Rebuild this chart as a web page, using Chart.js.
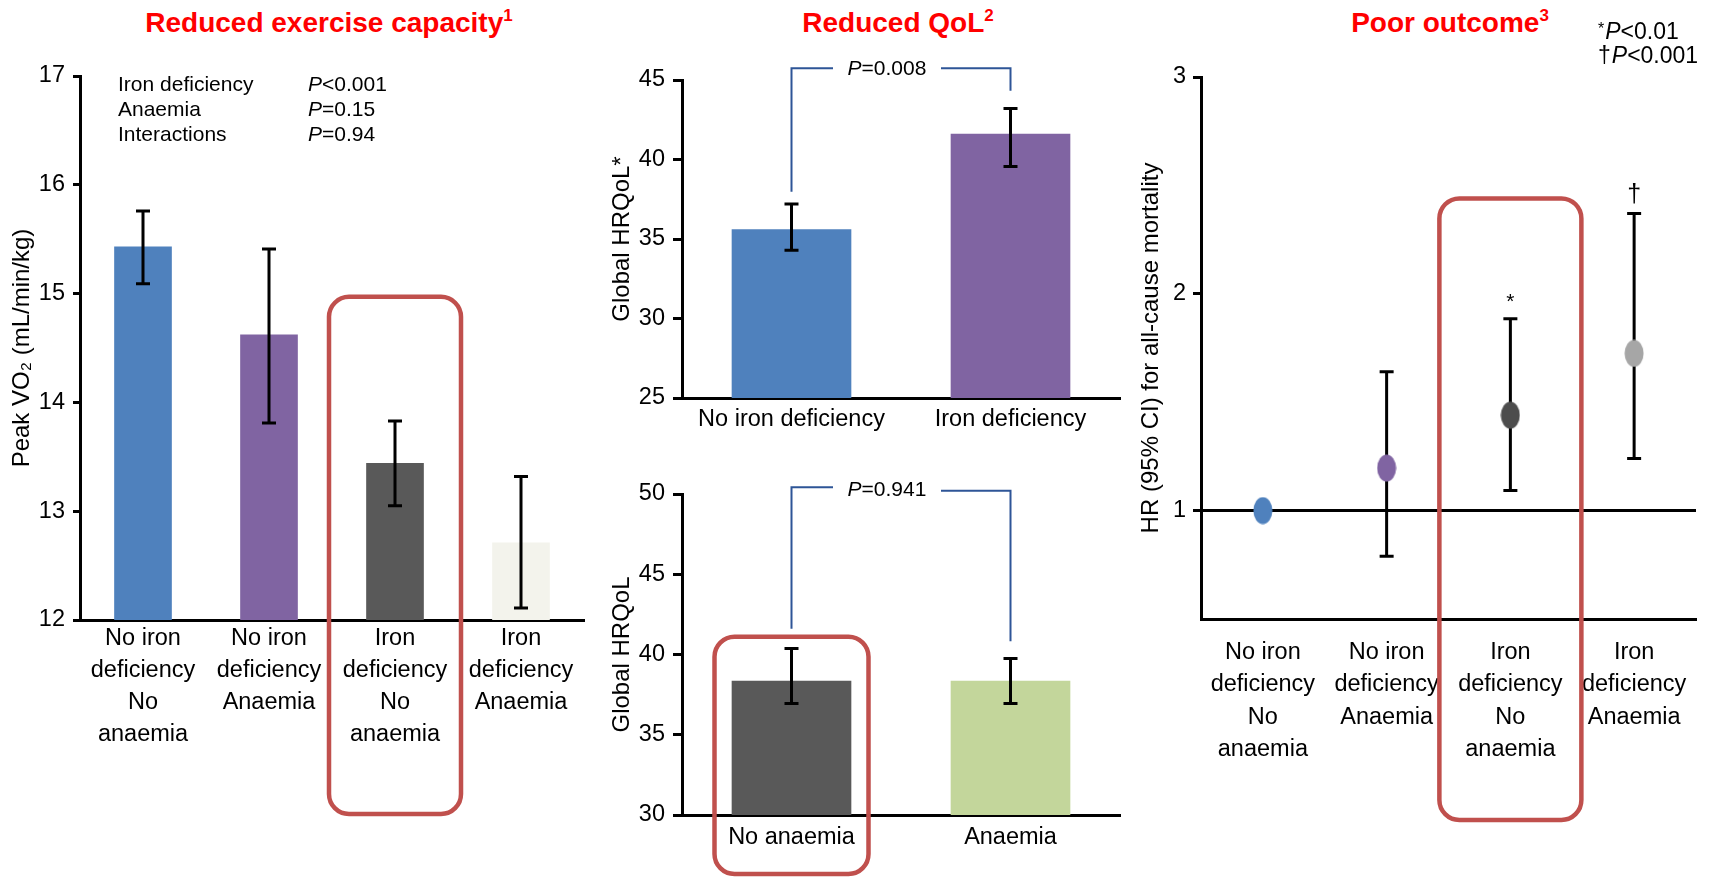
<!DOCTYPE html>
<html>
<head>
<meta charset="utf-8">
<script src="https://cdn.jsdelivr.net/npm/chart.js@4.4.1/dist/chart.umd.min.js"></script>
<style>
  body { margin: 0; background: #fff; width: 1711px; height: 877px; overflow: hidden; position: relative;
         font-family: "Liberation Sans", Arial, Helvetica, sans-serif; }
  canvas { position: absolute; }
  .title { position: absolute; color: #ff0000; font-weight: bold; font-size: 28px; white-space: nowrap;
           transform: translate(-50%, -50%); }
  .title span { font-size: 17px; position: relative; top: -11px; }
</style>
</head>
<body>
<div class="title" style="left:329px;top:23px">Reduced exercise capacity<span>1</span></div>
<div class="title" style="left:898px;top:23px">Reduced QoL<span>2</span></div>
<div class="title" style="left:1450px;top:23px">Poor outcome<span>3</span></div>

<canvas id="c1" width="610" height="877" style="left:0;top:0"></canvas>
<canvas id="c2" width="540" height="440" style="left:590px;top:0"></canvas>
<canvas id="c3" width="540" height="437" style="left:590px;top:440px"></canvas>
<canvas id="c4" width="591" height="877" style="left:1120px;top:0"></canvas>

<script>
"use strict";

const FONT = '"Liberation Sans", Arial, Helvetica, sans-serif';

// data
const groups = [["No iron", "deficiency", "No", "anaemia"], ["No iron", "deficiency", "Anaemia"],
                ["Iron", "deficiency", "No", "anaemia"], ["Iron", "deficiency", "Anaemia"]];

const vo2Mean = [15.43, 14.62, 13.44, 12.71];
const vo2Low = [15.09, 13.81, 13.05, 12.11];
const vo2High = [15.76, 15.41, 13.83, 13.32];
const vo2Effects = ["Iron deficiency", "Anaemia", "Interactions"];
const vo2EffectP = ["<0.001", "=0.15", "=0.94"];

const ironLabels = ["No iron deficiency", "Iron deficiency"];
const ironQol = [35.6, 41.6];
const ironQolLow = [34.3, 39.56];
const ironQolHigh = [37.2, 43.2];

const anaemiaLabels = ["No anaemia", "Anaemia"];
const anaemiaQol = [38.34, 38.34];
const anaemiaQolLow = [36.95, 36.95];
const anaemiaQolHigh = [40.37, 39.75];

const hrValues = [1.0, 1.196, 1.44, 1.725];
const hrLow = [null, 0.79, 1.093, 1.24];
const hrHigh = [null, 1.64, 1.885, 2.37];
const hrMarks = ["", "", "*", "\u2020"];
const hrTicks = [1, 2, 3];
const sigKeys = ["*", "\u2020"];
const sigP = ["<0.01", "<0.001"];

const blue = "#4f81bd", purple = "#8064a2", darkGrey = "#595959";

Chart.defaults.font.family = FONT;
Chart.defaults.font.size = 23.5;
Chart.defaults.color = "#000";
Chart.defaults.animation = false;
Chart.defaults.plugins.legend.display = false;
Chart.defaults.plugins.tooltip.enabled = false;

function pText(ctx, x, y, rest, align, size) {
  size = size || 21;
  ctx.font = "italic " + size + "px " + FONT;
  const wP = ctx.measureText("P").width;
  ctx.font = size + "px " + FONT;
  const wR = ctx.measureText(rest).width;
  const x0 = align === "center" ? x - (wP + wR) / 2 : x;
  ctx.textAlign = "left";
  ctx.textBaseline = "middle";
  ctx.fillStyle = "#000";
  ctx.font = "italic " + size + "px " + FONT;
  ctx.fillText("P", x0, y);
  ctx.font = size + "px " + FONT;
  ctx.fillText(rest, x0 + wP, y);
}

function drawErrors(chart, o) {
  const ctx = chart.ctx, xs = chart.scales.x, ys = chart.scales.y;
  ctx.save();
  ctx.strokeStyle = "#000";
  ctx.lineWidth = 3;
  o.low.forEach((lo, i) => {
    if (lo === null) return;
    const x = xs.getPixelForValue(i);
    const yl = ys.getPixelForValue(lo), yh = ys.getPixelForValue(o.high[i]);
    ctx.beginPath();
    ctx.moveTo(x, yl); ctx.lineTo(x, yh);
    ctx.moveTo(x - 7, yl); ctx.lineTo(x + 7, yl);
    ctx.moveTo(x - 7, yh); ctx.lineTo(x + 7, yh);
    ctx.stroke();
    if (o.marks && o.marks[i]) {
      ctx.fillStyle = "#000";
      ctx.textAlign = "center";
      ctx.textBaseline = "bottom";
      ctx.font = (o.marks[i] === "*" ? 21 : 25) + "px " + FONT;
      ctx.fillText(o.marks[i], x, yh - 6);
    }
  });
  ctx.restore();
}

const extras = {
  id: "extras",
  beforeDatasetsDraw(chart, args, o) {
    const ctx = chart.ctx, a = chart.chartArea;
    if (o.refLine !== undefined) {
      const y = chart.scales.y.getPixelForValue(o.refLine);
      ctx.save();
      ctx.strokeStyle = "#000";
      ctx.lineWidth = 3;
      ctx.beginPath(); ctx.moveTo(a.left, y); ctx.lineTo(a.right, y); ctx.stroke();
      ctx.restore();
    }
    if (o.under && o.low) drawErrors(chart, o);
  },
  afterDatasetsDraw(chart, args, o) {
    if (!o.under && o.low) drawErrors(chart, o);
  },
  afterDraw(chart, args, o) {
    const ctx = chart.ctx, a = chart.chartArea, xs = chart.scales.x, ys = chart.scales.y;
    if (o.bracket) {
      const b = o.bracket;
      const xl = xs.getPixelForValue(0), xr = xs.getPixelForValue(1);
      const yl = ys.getPixelForValue(b.topL), yr = ys.getPixelForValue(b.topR);
      const mid = (xl + xr) / 2 + b.shift;
      ctx.save();
      ctx.strokeStyle = "#2e5597";
      ctx.lineWidth = 2;
      ctx.beginPath();
      ctx.moveTo(xl, ys.getPixelForValue(b.endL)); ctx.lineTo(xl, yl); ctx.lineTo(mid - 54, yl);
      ctx.moveTo(mid + 54, yr); ctx.lineTo(xr, yr); ctx.lineTo(xr, ys.getPixelForValue(b.endR));
      ctx.stroke();
      pText(ctx, mid, (yl + yr) / 2 + 1, b.text, "center");
      ctx.restore();
    }
    if (o.notes) {
      ctx.save();
      o.notes.forEach((t, i) => {
        const y = a.top + 9 + 25 * i;
        ctx.fillStyle = "#000";
        ctx.font = "21px " + FONT;
        ctx.textAlign = "left";
        ctx.textBaseline = "middle";
        ctx.fillText(t, a.left + 38, y);
        pText(ctx, a.left + 228, y, o.noteP[i], "left");
      });
      ctx.restore();
    }
    if (o.key) {
      ctx.save();
      o.key.forEach((k, i) => {
        const y = 33 + 24 * i;
        const x = a.right - 98;
        ctx.fillStyle = "#000";
        ctx.textAlign = "left";
        ctx.textBaseline = "middle";
        ctx.font = (k === "*" ? 16 : 23) + "px " + FONT;
        ctx.fillText(k, x, k === "*" ? y - 3 : y);
        pText(ctx, x + ctx.measureText(k).width + 1, y, o.keyP[i], "left", 23);
      });
      ctx.restore();
    }
    if (o.box) {
      const b = o.box;
      const x = xs.getPixelForValue(b.index);
      const top = ys.getPixelForValue(b.top);
      const bottom = b.below === "edge" ? chart.height - 3 : a.bottom + b.below;
      ctx.save();
      ctx.strokeStyle = "#c0504d";
      ctx.lineWidth = 4.5;
      ctx.beginPath();
      ctx.roundRect(x - b.half, top, 2 * b.half, bottom - top, 20);
      ctx.stroke();
      ctx.restore();
    }
  }
};

function yAxis(min, max, step, title, width, titlePad, tickPad, tickLen) {
  return {
    min: min, max: max,
    ticks: { stepSize: step, padding: tickPad, font: { size: 23.5 } },
    grid: { drawOnChartArea: false, drawTicks: true, tickLength: tickLen, tickWidth: 3, tickColor: "#000" },
    border: { display: true, color: "#000", width: 3 },
    title: { display: true, text: title, font: { size: 24 }, padding: { top: titlePad, bottom: 0 } },
    afterFit(scale) { scale.width = width; }
  };
}

function xAxis(height, pad, lineHeight) {
  return {
    offset: true,
    ticks: { padding: pad, maxRotation: 0, autoSkip: false, font: { size: 23.5, lineHeight: lineHeight } },
    grid: { drawOnChartArea: false, drawTicks: false },
    border: { display: true, color: "#000", width: 3 },
    afterFit(scale) { scale.height = height; }
  };
}

// Panel 1: peak VO2
new Chart(document.getElementById("c1"), {
  type: "bar",
  data: {
    labels: groups,
    datasets: [{ data: vo2Mean, backgroundColor: [blue, purple, darkGrey, "#f3f3ec"], barThickness: 57 }]
  },
  options: {
    responsive: false,
    layout: { padding: { left: 0, right: 26, top: 76, bottom: 0 } },
    scales: {
      x: xAxis(257, 3, 1.36),
      y: yAxis(12, 17, 1, "Peak VO\u2082 (mL/min/kg)", 80, 8, 8, 7)
    },
    plugins: {
      extras: { low: vo2Low, high: vo2High, notes: vo2Effects, noteP: vo2EffectP,
                box: { index: 2, half: 66, top: 14.97, below: 194 } }
    }
  },
  plugins: [extras]
});

// Panel 2: QoL by iron status
new Chart(document.getElementById("c2"), {
  type: "bar",
  data: {
    labels: ironLabels,
    datasets: [{ data: ironQol, backgroundColor: [blue, purple], barThickness: 119 }]
  },
  options: {
    responsive: false,
    layout: { padding: { left: 0, right: 10, top: 80, bottom: 0 } },
    scales: {
      x: xAxis(42, 7, 1.2),
      y: yAxis(25, 45, 5, "Global HRQoL*", 92, 18, 8, 9)
    },
    plugins: {
      extras: { low: ironQolLow, high: ironQolHigh,
                bracket: { topL: 45.74, topR: 45.74, endL: 37.97, endR: 44.33, shift: -14, text: "=0.008" } }
    }
  },
  plugins: [extras]
});

// Panel 3: QoL by anaemia status
new Chart(document.getElementById("c3"), {
  type: "bar",
  data: {
    labels: anaemiaLabels,
    datasets: [{ data: anaemiaQol, backgroundColor: [darkGrey, "#c3d69b"], barThickness: 119 }]
  },
  options: {
    responsive: false,
    layout: { padding: { left: 0, right: 10, top: 54, bottom: 0 } },
    scales: {
      x: xAxis(62, 8, 1.2),
      y: yAxis(30, 50, 5, "Global HRQoL", 92, 18, 8, 9)
    },
    plugins: {
      extras: { low: anaemiaQolLow, high: anaemiaQolHigh,
                bracket: { topL: 50.42, topR: 50.21, endL: 41.6, endR: 40.83, shift: -14, text: "=0.941" },
                box: { index: 0, half: 77, top: 41.1, below: "edge" } }
    }
  },
  plugins: [extras]
});

// Panel 4: hazard ratio for all-cause mortality
function ellipseMarker(color) {
  const c = document.createElement("canvas");
  c.width = 20; c.height = 28;
  const g = c.getContext("2d");
  g.fillStyle = color;
  g.beginPath();
  g.ellipse(10, 14, 9.5, 13.5, 0, 0, Math.PI * 2);
  g.fill();
  return c;
}

const hrY = yAxis(0.5, 3, 1, "HR (95% CI) for all-cause mortality", 81, 17, 7, 8);
hrY.afterBuildTicks = (scale) => { scale.ticks = hrTicks.map(v => ({ value: v })); };

new Chart(document.getElementById("c4"), {
  type: "line",
  data: {
    labels: groups,
    datasets: [{
      data: hrValues, showLine: false,
      pointStyle: [blue, purple, "#4d4d4d", "#a6a6a6"].map(ellipseMarker),
      pointRadius: 14
    }]
  },
  options: {
    responsive: false,
    layout: { padding: { left: 0, right: 9, top: 77, bottom: 0 } },
    scales: {
      x: xAxis(258, 17, 1.38),
      y: hrY
    },
    plugins: {
      extras: { low: hrLow, high: hrHigh, marks: hrMarks, under: true, refLine: 1,
                key: sigKeys, keyP: sigP,
                box: { index: 2, half: 71, top: 2.44, below: 201 } }
    }
  },
  plugins: [extras]
});
</script>
</body>
</html>
